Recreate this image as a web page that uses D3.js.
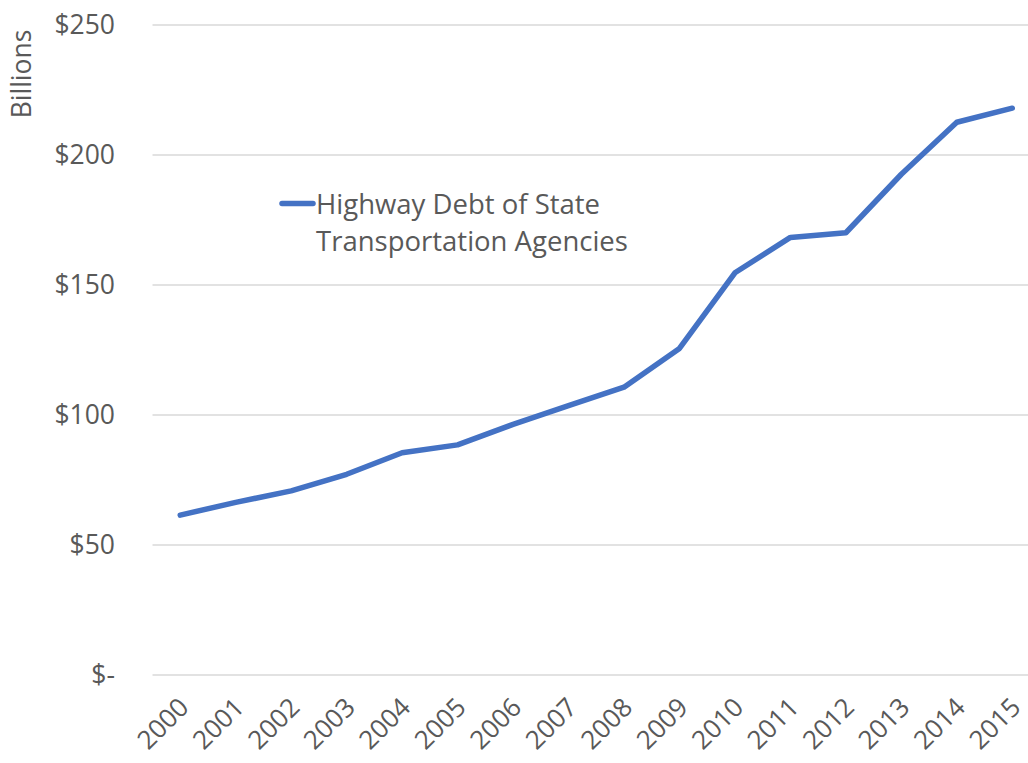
<!DOCTYPE html>
<html><head><meta charset="utf-8">
<script src="https://cdn.jsdelivr.net/npm/d3@7"></script>
<style>body{margin:0;background:#fff}svg{display:block}text{font-family:"Open Sans",sans-serif;fill:#595959}</style>
</head><body>
<script>
const years = ["2000","2001","2002","2003","2004","2005","2006","2007","2008","2009","2010","2011","2012","2013","2014","2015"];
const debt = [61.5,66.4,70.8,77.2,85.5,88.5,96.4,103.6,110.7,125.6,154.7,168.3,170.1,192.6,212.6,218.0];
const yTicks = [0,50,100,150,200,250];
const yTickLabels = ["$-","$50","$100","$150","$200","$250"];
const seriesName = ["Highway Debt of State","Transportation Agencies"];
const axisTitle = "Billions";

(function(){
const W=1028,H=763;
const svg=d3.select("body").append("svg").attr("width",W).attr("height",H);
const pL=152.5, pR=1040, pT=25, pB=675;
const x=d3.scaleBand().domain(years).range([pL,pR]);
const y=d3.scaleLinear().domain([0,250]).range([pB,pT]);

svg.append("g").selectAll("line").data(yTicks).join("line")
  .attr("x1",pL).attr("x2",pR).attr("y1",d=>y(d)).attr("y2",d=>y(d))
  .attr("stroke","#d9d9d9").attr("stroke-width",1.3);

svg.append("g").selectAll("text").data(yTicks).join("text")
  .attr("x",115).attr("y",d=>y(d)).attr("dy","0.35em").attr("text-anchor","end")
  .attr("font-size",26.5).text((d,i)=>yTickLabels[i]);

svg.append("text").attr("transform","translate(31,74) rotate(-90)").attr("text-anchor","middle")
  .attr("font-size",26.5).text(axisTitle);

svg.append("g").selectAll("text").data(years).join("text")
  .attr("transform",d=>`translate(${x(d)+x.bandwidth()/2+10},${709}) rotate(-45)`)
  .attr("text-anchor","end").attr("font-size",26).text(d=>d);

const line=d3.line().x((d,i)=>x(years[i])+x.bandwidth()/2).y(d=>y(d));
svg.append("path").datum(debt).attr("d",line).attr("fill","none")
  .attr("stroke","#4472C4").attr("stroke-width",5.5).attr("stroke-linejoin","round").attr("stroke-linecap","round");

svg.append("line").attr("x1",282).attr("x2",313).attr("y1",203.5).attr("y2",203.5)
  .attr("stroke","#4472C4").attr("stroke-width",5.5).attr("stroke-linecap","round");
svg.append("text").attr("x",316).attr("y",213.5).attr("font-size",27.5).text(seriesName[0]);
svg.append("text").attr("x",316).attr("y",251).attr("font-size",27.5).text(seriesName[1]);
})();
</script>
</body></html>
